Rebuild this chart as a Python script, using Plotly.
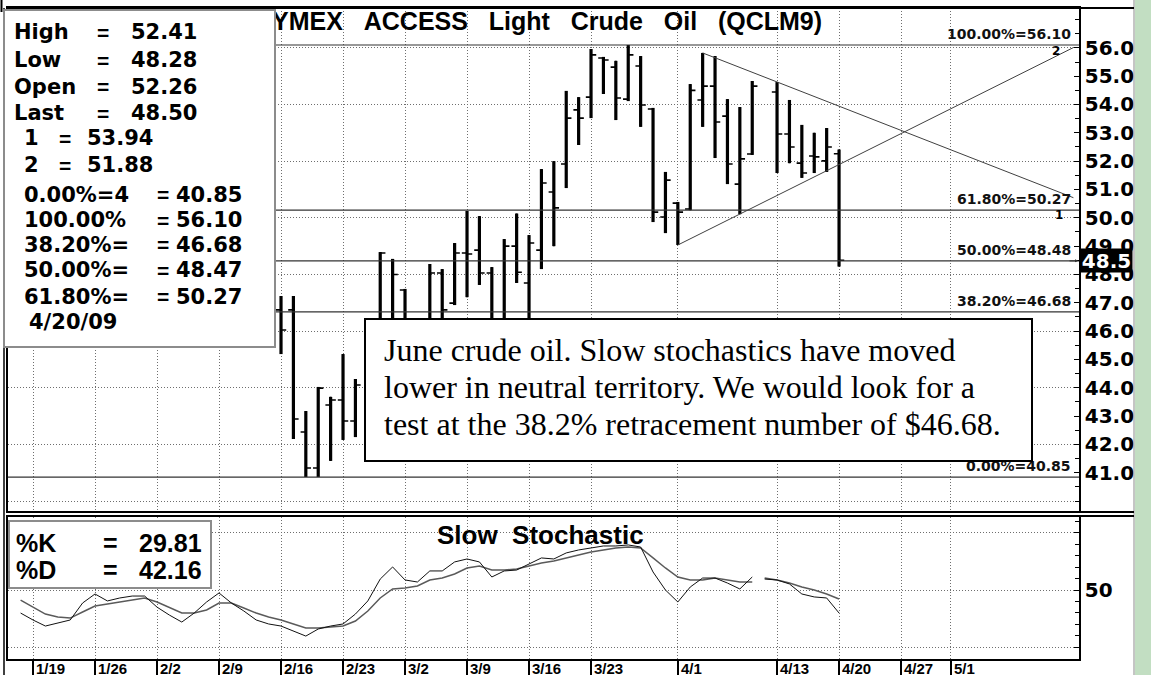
import numpy as np
import plotly.graph_objects as go

W, H = 1151, 675

# ---------------- data ----------------
bar_dates = ["2009-02-16", "2009-02-17", "2009-02-18", "2009-02-19", "2009-02-20",
             "2009-02-23", "2009-02-24", "2009-02-26", "2009-02-27", "2009-03-02",
             "2009-03-04", "2009-03-05", "2009-03-06", "2009-03-09", "2009-03-10",
             "2009-03-11", "2009-03-12", "2009-03-13", "2009-03-16", "2009-03-17",
             "2009-03-18", "2009-03-19", "2009-03-20", "2009-03-23", "2009-03-24",
             "2009-03-25", "2009-03-26", "2009-03-27", "2009-03-30", "2009-03-31",
             "2009-04-01", "2009-04-02", "2009-04-03", "2009-04-06", "2009-04-07",
             "2009-04-08", "2009-04-09", "2009-04-13", "2009-04-14", "2009-04-15",
             "2009-04-16", "2009-04-17", "2009-04-20"]
bar_open = [46.75, 46.75, 42.44, 41.17, 43.39, 43.57, 42.83, 45.60, 45.90, 47.45,
            45.50, 48.05, 46.99, 48.76, 48.86, 48.05, 46.00, 49.00, 47.70, 48.86,
            50.91, 51.90, 53.81, 54.26, 55.64, 55.32, 54.19, 55.36, 53.84, 50.03,
            50.52, 50.31, 54.16, 54.65, 53.59, 51.19, 52.25, 54.44, 52.96, 51.93,
            52.18, 52.01, 52.26]
bar_high = [47.24, 47.24, 43.18, 44.03, 43.68, 45.19, 44.31, 48.79, 48.55, 47.49,
            48.37, 48.19, 49.11, 50.24, 50.06, 48.26, 49.25, 50.15, 49.39, 51.72,
            52.00, 54.48, 54.26, 55.96, 55.68, 55.54, 56.10, 55.71, 53.88, 51.62,
            50.56, 54.72, 55.82, 55.71, 54.19, 53.91, 54.83, 54.79, 54.16, 53.28,
            53.00, 53.17, 52.41]
bar_low = [45.19, 42.19, 40.85, 40.85, 41.42, 42.16, 42.26, 45.20, 45.70, 45.00,
           45.20, 45.80, 46.92, 47.20, 47.63, 45.50, 45.70, 47.70, 46.20, 48.19,
           49.00, 51.05, 52.57, 53.52, 54.37, 53.45, 54.12, 53.21, 49.85, 49.46,
           49.04, 50.27, 53.21, 52.11, 51.19, 50.13, 52.22, 51.58, 51.93, 51.41,
           51.58, 51.62, 48.28]
bar_close = [46.04, 42.90, 41.17, 43.99, 43.57, 42.83, 44.10, 48.76, 48.00, 45.30,
             48.05, 46.75, 48.76, 48.72, 48.05, 45.90, 49.00, 48.08, 49.11, 51.23,
             50.35, 53.52, 53.52, 55.75, 55.57, 54.23, 55.75, 53.98, 50.20, 51.33,
             50.20, 54.50, 54.65, 53.38, 51.90, 52.08, 54.65, 52.96, 52.50, 51.58,
             52.15, 52.50, 48.50]

# slow stochastic, one value per weekday from 1/16/09 to 4/20/09
stoch_start = "2009-01-16"
stoch_k = [29.8, 23.7, 18.4, 21.0, 23.7, 38.6, 46.5, 40.4, 43.0, 44.7,
           44.7, 35.0, 28.0, 21.9, 29.8, 39.5, 47.4, 38.6, 31.6, 23.7,
           20.2, 18.4, 14.0, 9.6, 15.8, 18.4, 20.2, 28.9, 40.4, 59.6,
           70.2, 58.8, 57.0, 66.7, 66.7, 74.6, 77.2, 74.6, 61.4, 66.7,
           67.5, 72.8, 78.1, 77.2, 82.5, 85.1, 86.8, 88.6, 88.6, 89.5,
           87.7, 65.8, 50.0, 39.5, 52.6, 60.5, 60.5, 56.1, 50.9, 61.4,
           59.6, 58.8, 55.3, 46.5, 43.9, 43.0, 29.81]
stoch_d = [41.2, 35.0, 28.9, 26.3, 25.4, 30.7, 36.0, 37.7, 39.5, 41.2,
           43.0, 39.5, 35.0, 29.8, 29.8, 32.5, 38.6, 38.6, 34.2, 29.8,
           26.3, 23.7, 20.2, 16.7, 16.7, 17.5, 18.4, 22.8, 31.6, 43.0,
           50.9, 51.8, 53.5, 58.8, 60.5, 64.0, 69.3, 71.0, 67.5, 67.5,
           68.4, 71.0, 73.7, 75.4, 78.1, 80.7, 83.3, 85.1, 86.8, 87.7,
           86.8, 78.1, 69.3, 61.4, 58.8, 58.8, 60.5, 58.8, 57.0, 57.0,
           60.5, 58.8, 56.1, 52.6, 50.0, 46.5, 42.16]
stoch_break_after = "2009-04-09"

fib_levels = [56.10, 50.27, 48.48, 46.68, 40.85]
fib_labels = ["100.00%=56.10", "61.80%=50.27", "50.00%=48.48", "38.20%=46.68", "0.00%=40.85"]

# trend lines: start (date, price) and end (weekday slot, price)
trend1_start = ("2009-04-03", 55.82)
trend1_end = (83.9, 50.71)
trend2_start = ("2009-04-01", 49.04)
trend2_end = (83.9, 56.01)

tick_dates = ["2009-01-19", "2009-01-26", "2009-02-02", "2009-02-09", "2009-02-16",
              "2009-02-23", "2009-03-02", "2009-03-09", "2009-03-16", "2009-03-23",
              "2009-04-01", "2009-04-13", "2009-04-20", "2009-04-27", "2009-05-01"]
tick_labels = ["1/19", "1/26", "2/2", "2/9", "2/16", "2/23", "3/2", "3/9", "3/16",
               "3/23", "4/1", "4/13", "4/20", "4/27", "5/1"]

price_ticks = [41, 42, 43, 44, 45, 46, 47, 48, 49, 50, 51, 52, 53, 54, 55, 56]

info_labels = ["High", "Low", "Open", "Last", "1", "2", "0.00%=4", "100.00%",
               "38.20%=", "50.00%=", "61.80%="]
info_values = ["52.41", "48.28", "52.26", "48.50", "53.94", "51.88", "40.85", "56.10",
               "46.68", "48.47", "50.27"]
info_date = "4/20/09"
stoch_info = [("%K", "29.81"), ("%D", "42.16")]
last_price = "48.5"
title = "NYMEX ACCESS Light Crude Oil (QCLM9)"
note_lines = ["June crude oil. Slow stochastics have moved",
              "lower in neutral territory. We would look for a",
              "test at the 38.2% retracement number of $46.68."]

# ---------------- helpers ----------------
def slot(d):
    return int(np.busday_count("2009-01-19", d))

def fx(px):
    return px / W

def fy(py):
    return 1 - py / H

X_LO, X_HI = -2.016, 84.35
P_LO, P_HI = 39.651, 57.406
S_LO, S_HI = -10.5, 114.0

xs = [slot(d) for d in bar_dates]
s0 = slot(stoch_start)
sx = list(range(s0, s0 + len(stoch_k)))
brk = slot(stoch_break_after)
sx_plot, k_plot, d_plot = [], [], []
for x, k, d in zip(sx, stoch_k, stoch_d):
    sx_plot.append(x); k_plot.append(k); d_plot.append(d)
    if x == brk:
        sx_plot.append(None); k_plot.append(None); d_plot.append(None)

BOLD_SANS = dict(family="DejaVu Sans", color="black", weight="bold")
ARIAL_B = dict(family="Liberation Sans", color="black", weight="bold")

fig = go.Figure()

# fib horizontal lines
for lvl in fib_levels:
    fig.add_trace(go.Scatter(x=[X_LO, X_HI], y=[lvl, lvl], mode="lines",
                             line=dict(color="#333333", width=1.2),
                             xaxis="x", yaxis="y", hoverinfo="skip", showlegend=False))
# trend lines
for st, en in [(trend1_start, trend1_end), (trend2_start, trend2_end)]:
    fig.add_trace(go.Scatter(x=[slot(st[0]), en[0]], y=[st[1], en[1]], mode="lines",
                             line=dict(color="#404040", width=1),
                             xaxis="x", yaxis="y", hoverinfo="skip", showlegend=False))

# OHLC bars: thin ticks + thick vertical ranges
fig.add_trace(go.Ohlc(x=xs, open=bar_open, high=bar_high, low=bar_low, close=bar_close,
                      increasing=dict(line=dict(color="black", width=1.6)),
                      decreasing=dict(line=dict(color="black", width=1.6)),
                      tickwidth=0.42, xaxis="x", yaxis="y", hoverinfo="skip", showlegend=False))
fig.add_trace(go.Ohlc(x=xs, open=bar_open, high=bar_high, low=bar_low, close=bar_close,
                      increasing=dict(line=dict(color="black", width=3.2)),
                      decreasing=dict(line=dict(color="black", width=3.2)),
                      tickwidth=0, xaxis="x", yaxis="y", hoverinfo="skip", showlegend=False))

# stochastic
fig.add_trace(go.Scatter(x=sx_plot, y=d_plot, mode="lines", connectgaps=False,
                         line=dict(color="#5a5a5a", width=1.5),
                         xaxis="x2", yaxis="y2", hoverinfo="skip", showlegend=False))
fig.add_trace(go.Scatter(x=sx_plot, y=k_plot, mode="lines", connectgaps=False,
                         line=dict(color="#111111", width=1),
                         xaxis="x2", yaxis="y2", hoverinfo="skip", showlegend=False))

tickslots = [slot(d) for d in tick_dates]
GRID = dict(showgrid=True, gridcolor="#6e6e6e", gridwidth=1, griddash="1px,2px")

fig.update_layout(
    width=W, height=H, margin=dict(l=0, r=0, t=0, b=0),
    paper_bgcolor="white", plot_bgcolor="white", showlegend=False,
    xaxis=dict(domain=[fx(8), fx(1079)], range=[X_LO, X_HI], anchor="y",
               tickmode="array", tickvals=tickslots, showticklabels=False, ticks="",
               zeroline=False, showline=True, mirror=True, linecolor="black", linewidth=2,
               rangeslider=dict(visible=False), **GRID),
    yaxis=dict(domain=[fy(511), fy(8)], range=[P_LO, P_HI], anchor="x", side="right",
               tickmode="array", tickvals=price_ticks,
               ticktext=[f"{v:.1f}" for v in price_ticks],
               tickfont=dict(size=20, **BOLD_SANS), ticks="inside", ticklen=5,
               tickcolor="black", showgrid=False, zeroline=False, showline=True,
               mirror=True, linecolor="black", linewidth=1.5,
               minor=dict(tickmode="linear", tick0=0, dtick=0.5, ticks="inside",
                          ticklen=4, tickcolor="black", showgrid=False)),
    yaxis3=dict(overlaying="y", range=[P_LO, P_HI], side="right", anchor="x",
                tickmode="linear", tick0=0, dtick=2, showticklabels=False, ticks="",
                zeroline=False, showline=False, **GRID),
    xaxis2=dict(domain=[fx(8), fx(1079)], range=[X_LO, X_HI], anchor="y2",
                tickmode="array", tickvals=tickslots, showticklabels=False,
                ticks="outside", ticklen=17, tickwidth=1.5, tickcolor="black",
                zeroline=False, showline=True, mirror=True, linecolor="black",
                linewidth=2, **GRID),
    yaxis2=dict(domain=[fy(659), fy(517)], range=[S_LO, S_HI], anchor="x2", side="right",
                tickmode="array", tickvals=[0, 50, 100], ticktext=["", "50", ""],
                tickfont=dict(size=20, **BOLD_SANS), ticks="inside", ticklen=5,
                tickcolor="black", zeroline=False, showline=True, mirror=True,
                linecolor="black", linewidth=1.5,
                minor=dict(tickmode="linear", tick0=0, dtick=10, ticks="inside",
                           ticklen=4, tickcolor="black", showgrid=False),
                **GRID),
)

# a dummy trace to activate yaxis3 grid
fig.add_trace(go.Scatter(x=[None], y=[None], xaxis="x", yaxis="y3", showlegend=False,
                         hoverinfo="skip"))

shapes = [
    dict(type="rect", xref="paper", yref="paper", x0=fx(1135), x1=1, y0=0, y1=1,
         fillcolor="#c2dec2", line=dict(width=0), layer="below"),
    dict(type="line", xref="paper", yref="paper", x0=fx(1134), x1=fx(1134), y0=0, y1=1,
         line=dict(color="#8a8a8a", width=1)),
    dict(type="line", xref="paper", yref="paper", x0=fx(8), x1=fx(1134), y0=fy(8), y1=fy(8),
         line=dict(color="black", width=2)),
    dict(type="line", xref="paper", yref="paper", x0=fx(8), x1=fx(1134), y0=fy(512), y1=fy(512),
         line=dict(color="black", width=2)),
    dict(type="line", xref="paper", yref="paper", x0=fx(8), x1=fx(1134), y0=fy(516), y1=fy(516),
         line=dict(color="black", width=2)),
    dict(type="line", xref="paper", yref="paper", x0=fx(4), x1=fx(4), y0=0, y1=fy(8),
         line=dict(color="black", width=1.5)),
    dict(type="line", xref="paper", yref="paper", x0=fx(1.5), x1=fx(1.5), y0=fy(12), y1=1,
         line=dict(color="black", width=2)),
]

ann = []
# fib labels
for lvl, lab in zip(fib_levels, fib_labels):
    ann.append(dict(xref="paper", yref="y", x=fx(1073), y=lvl, xanchor="right",
                    yanchor="bottom", yshift=1, text=lab, showarrow=False,
                    font=dict(size=14, family="DejaVu Sans", color="#111111", weight="bold")))
# trend line markers
ann.append(dict(xref="paper", yref="paper", x=fx(1062), y=fy(42), text="2", showarrow=False,
                font=dict(size=12, **BOLD_SANS)))
ann.append(dict(xref="paper", yref="paper", x=fx(1065), y=fy(206), text="1", showarrow=False,
                font=dict(size=12, **BOLD_SANS)))
# arrow at last price
ann.append(dict(xref="paper", yref="y", x=fx(1078), y=fib_levels[2], ax=-10, ay=0,
                axref="pixel", ayref="pixel", showarrow=True, arrowhead=2, arrowsize=0.6,
                arrowwidth=1, arrowcolor="#333333", text=""))
# title
ann.append(dict(xref="paper", yref="paper", x=fx(252), y=fy(21), xanchor="left",
                yanchor="middle", text=title.replace(" ", "\u00a0\u00a0\u00a0"),
                showarrow=False, font=dict(size=25, **ARIAL_B)))
# info box
ann.append(dict(xref="paper", yref="paper", x=fx(3), y=fy(9), xanchor="left", yanchor="top",
                text=" ", showarrow=False, width=269, height=335, bgcolor="white",
                bordercolor="#8c8c8c", borderwidth=2, borderpad=0))
row_y = [32, 60, 87, 113, 138, 165, 195, 220, 245, 270, 297]
for i, (lab, val) in enumerate(zip(info_labels, info_values)):
    if i < 4:
        lx, ex, vx = 12, 95, 129
    elif i < 6:
        lx, ex, vx = 22, 57, 85
    else:
        lx, ex, vx = 22, 155, 174
    ann.append(dict(xref="paper", yref="paper", x=fx(lx), y=fy(row_y[i]),
                    xanchor="left", yanchor="middle", text=lab, showarrow=False,
                    font=dict(size=21, **BOLD_SANS)))
    ann.append(dict(xref="paper", yref="paper", x=fx(ex), y=fy(row_y[i]),
                    xanchor="left", yanchor="middle", text="=", showarrow=False,
                    font=dict(size=21, **ARIAL_B)))
    ann.append(dict(xref="paper", yref="paper", x=fx(vx), y=fy(row_y[i]),
                    xanchor="left", yanchor="middle", text=val, showarrow=False,
                    font=dict(size=21, **BOLD_SANS)))
ann.append(dict(xref="paper", yref="paper", x=fx(27), y=fy(322), xanchor="left",
                yanchor="middle", text=info_date, showarrow=False,
                font=dict(size=21, **BOLD_SANS)))
# note box
ann.append(dict(xref="paper", yref="paper", x=fx(364), y=fy(318), xanchor="left",
                yanchor="top", text=" ", showarrow=False, width=665, height=140,
                bgcolor="white", bordercolor="black", borderwidth=2, borderpad=0))
for i, line in enumerate(note_lines):
    ann.append(dict(xref="paper", yref="paper", x=fx(382), y=fy(350 + 37 * i),
                    xanchor="left", yanchor="middle", text=line, showarrow=False,
                    font=dict(size=32, family="Liberation Serif", color="black")))
# stochastic info box
ann.append(dict(xref="paper", yref="paper", x=fx(8), y=fy(520), xanchor="left",
                yanchor="top", text=" ", showarrow=False, width=200, height=65,
                bgcolor="white", bordercolor="#8c8c8c", borderwidth=2, borderpad=0))
for i, (lab, val) in enumerate(stoch_info):
    yy = fy(543 + 27 * i)
    ann.append(dict(xref="paper", yref="paper", x=fx(14), y=yy, xanchor="left",
                    yanchor="middle", text=lab, showarrow=False, font=dict(size=25, **ARIAL_B)))
    ann.append(dict(xref="paper", yref="paper", x=fx(101), y=yy, xanchor="left",
                    yanchor="middle", text="=", showarrow=False, font=dict(size=25, **ARIAL_B)))
    ann.append(dict(xref="paper", yref="paper", x=fx(204), y=yy, xanchor="right",
                    yanchor="middle", text=val, showarrow=False, font=dict(size=25, **ARIAL_B)))
ann.append(dict(xref="paper", yref="paper", x=fx(435), y=fy(535), xanchor="left",
                yanchor="middle", text="Slow\u00a0\u00a0Stochastic", showarrow=False,
                font=dict(size=26, **ARIAL_B)))
# last price box
ann.append(dict(xref="paper", yref="y", x=fx(1080), y=float(last_price), xanchor="left",
                yanchor="middle", text=last_price, showarrow=False, bgcolor="black",
                width=51, height=23, borderpad=0,
                font=dict(size=20, family="DejaVu Sans", color="white", weight="bold")))
# date labels
for sl, lab in zip(tickslots, tick_labels):
    ann.append(dict(xref="x2", yref="paper", x=sl, y=fy(668), xanchor="left", yanchor="middle",
                    xshift=1, text=lab, showarrow=False, font=dict(size=15, **ARIAL_B)))

fig.update_layout(shapes=shapes, annotations=ann)
fig.write_html("out.html", config={"displayModeBar": False},
               post_script="document.body.style.margin='0';document.body.style.padding='0';")
